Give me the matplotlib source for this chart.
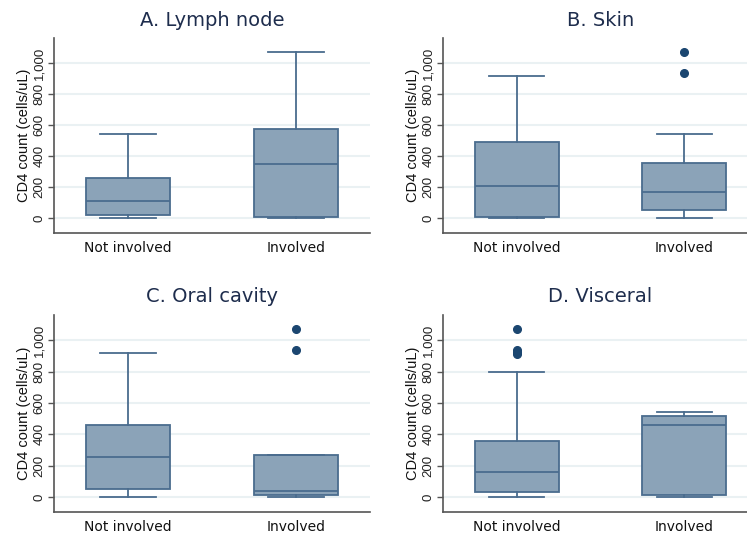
import matplotlib
matplotlib.use("Agg")
import matplotlib.pyplot as plt

categories = ["Not involved", "Involved"]
titles = ["A. Lymph node", "B. Skin", "C. Oral cavity", "D. Visceral"]

# per panel: [not involved, involved] -> (whislo, q1, med, q3, whishi, fliers)
lymph_stats = [(0, 21, 112, 258, 542, []), (0, 6, 351, 574, 1075, [])]
skin_stats = [(0, 6, 209, 488, 918, []), (0, 49, 166, 355, 542, [935, 1073])]
oral_stats = [(0, 47, 256, 462, 918, []), (0, 13, 37, 267, 267, [938, 1075])]
visceral_stats = [(0, 28, 159, 355, 800, [912, 924, 937, 1075]), (0, 11, 460, 514, 540, [])]

yticks = [0, 200, 400, 600, 800, 1000]
ytick_labels = ["0", "200", "400", "600", "800", "1,000"]
ylabel = "CD4 count (cells/uL)"

fig = plt.figure(figsize=(7.47, 5.38), dpi=100)
W, H = 747, 538
boxes_px = [(54, 38, 370, 233), (443, 38, 758, 233), (54, 315, 370, 512), (443, 315, 758, 512)]

fill = "#8ba3b8"
edge = "#4a6c8e"
outc = "#1b4670"
gridc = "#eaf1f3"
titlec = "#1e2d4d"

all_stats = [lymph_stats, skin_stats, oral_stats, visceral_stats]
for (l, t, r, b), title, stats in zip(boxes_px, titles, all_stats):
    ax = fig.add_axes([l / W, 1 - b / H, (r - l) / W, (b - t) / H])
    bxp = []
    for cat, s in zip(categories, stats):
        bxp.append(dict(label=cat, whislo=s[0], q1=s[1], med=s[2], q3=s[3], whishi=s[4], fliers=s[5]))
    ax.bxp(bxp, positions=[1, 2], widths=0.5, capwidths=0.33, patch_artist=True,
           boxprops=dict(facecolor=fill, edgecolor=edge, linewidth=1.3),
           medianprops=dict(color=edge, linewidth=1.3),
           whiskerprops=dict(color=edge, linewidth=1.3),
           capprops=dict(color=edge, linewidth=1.3),
           flierprops=dict(marker="o", markerfacecolor=outc, markeredgecolor=outc, markersize=5.5),
           zorder=3)
    ax.set_xlim(0.56, 2.44)
    ax.set_ylim(-97, 1163)
    ax.set_yticks(yticks)
    ax.set_yticklabels(ytick_labels, rotation=90, va="center", fontsize=9.5,
                       family="Liberation Sans", color="#222222")
    ax.set_ylabel(ylabel, fontsize=10.5, family="Liberation Sans", color="#111111", labelpad=2)
    ax.set_xticks([1, 2])
    ax.set_xticklabels(categories, fontsize=10, color="#111111")
    ax.tick_params(axis="x", length=0, pad=6)
    ax.tick_params(axis="y", length=4, width=1, color="#555555", pad=2)
    ax.grid(axis="y", color=gridc, linewidth=1.5, zorder=0)
    ax.set_axisbelow(True)
    for sp in ["top", "right"]:
        ax.spines[sp].set_visible(False)
    for sp in ["left", "bottom"]:
        ax.spines[sp].set_color("#555555")
        ax.spines[sp].set_linewidth(1.2)
    ax.set_title(title, fontsize=14, color=titlec, pad=9)

fig.savefig("out.png", dpi=100)
